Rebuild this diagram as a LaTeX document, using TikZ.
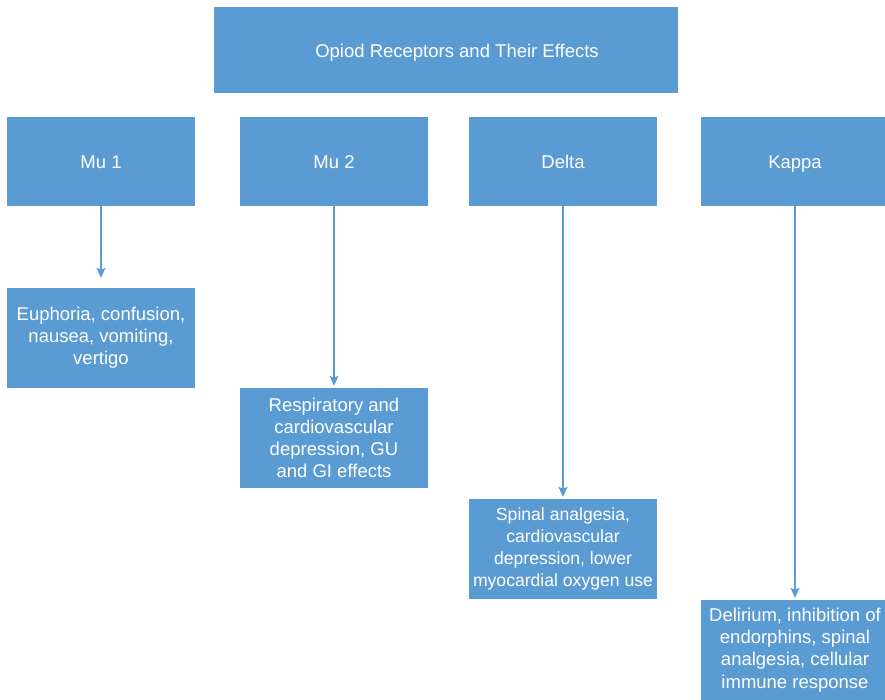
\documentclass[tikz,border=0pt]{standalone}
\usepackage{fontspec}
\setmainfont{Liberation Sans}
\usetikzlibrary{arrows.meta}
\definecolor{boxblue}{HTML}{5A9BD4}

\begin{document}
\begin{tikzpicture}[>={Stealth[length=10pt,width=9pt,inset=2pt]},x=1pt,y=-1pt,
  every node/.style={font=\fontsize{18.5}{22.2}\selectfont,text=white,align=center},
  topbox/.style={fill=boxblue,minimum width=464pt,minimum height=86pt,inner sep=0pt,
    text height=17pt,text depth=2pt},
  recbox/.style={fill=boxblue,minimum width=188pt,minimum height=89pt,inner sep=0pt,
    text height=16pt,text depth=2pt},
  effbox/.style={fill=boxblue,minimum width=188pt,minimum height=100pt,inner sep=0pt},
  link/.style={->,boxblue,line width=1.6pt}]
  \useasboundingbox (0,0) rectangle (885,699);

  % Title
  \node[topbox] (title) at (446,50) {\hspace*{22pt}Opiod Receptors and Their Effects};

  % Receptor boxes
  \node[recbox] (mu1) at (101,161.5) {Mu 1};
  \node[recbox] (mu2) at (334,161.5) {Mu 2};
  \node[recbox] (delta) at (563,161.5) {Delta};
  \node[recbox] (kappa) at (795,161.5) {Kappa};

  % Effect boxes
  \node[effbox] (eff1) at (101,338) {Euphoria, confusion,\\nausea, vomiting,\\vertigo};
  \node[effbox] (eff2) at (334,438) {Respiratory and\\cardiovascular\\depression, GU\\and GI effects};
  \node[effbox,font=\fontsize{17.6}{22.2}\selectfont] (eff3) at (563,549)
    {Spinal analgesia,\\cardiovascular\\depression, lower\\myocardial oxygen use};
  \node[effbox] (eff4) at (795,650) {Delirium, inhibition of\\endorphins, spinal\\analgesia, cellular\\immune response};

  % Arrows
  \draw[link,shorten >=10pt] (mu1) -- (eff1);
  \draw[link,shorten >=2pt] (mu2) -- (eff2);
  \draw[link,shorten >=2pt] (delta) -- (eff3);
  \draw[link,shorten >=2pt] (kappa) -- (eff4);
\end{tikzpicture}
\end{document}
